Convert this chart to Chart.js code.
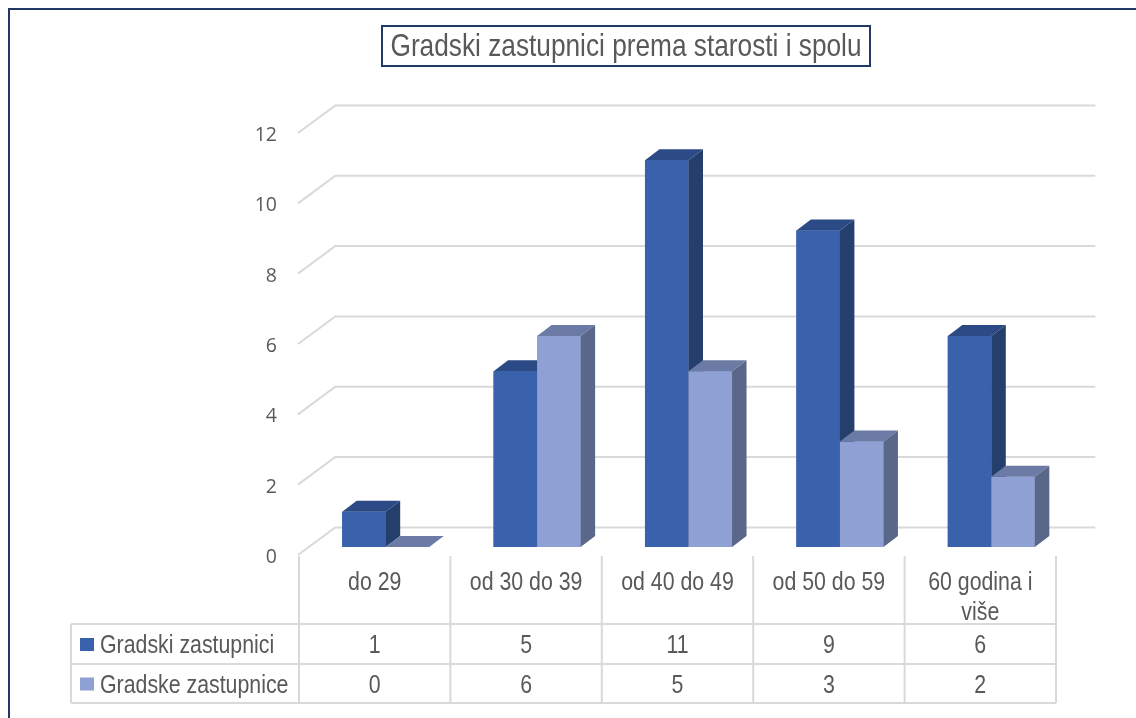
<!DOCTYPE html>
<html>
<head>
<meta charset="utf-8">
<script src="https://cdn.jsdelivr.net/npm/chart.js@4/dist/chart.umd.min.js"></script>
<style>
html,body{margin:0;padding:0;background:#fff;}
canvas{display:block;}
</style>
</head>
<body>
<canvas id="c" width="1136" height="718"></canvas>
<script>
// ---- data ----
const chartTitle = 'Gradski zastupnici prema starosti i spolu';
const categories = ['do 29', 'od 30 do 39', 'od 40 do 49', 'od 50 do 59', ['60 godina i', 'više']];
const seriesNames = ['Gradski zastupnici', 'Gradske zastupnice'];
const gradskiZastupnici = [1, 5, 11, 9, 6];
const gradskeZastupnice = [0, 6, 5, 3, 2];
const yTicks = [0, 2, 4, 6, 8, 10, 12];

// ---- styles ----
const faceColors = [
  {front: '#3A62AC', top: '#2C4B86', side: '#243F6C'},
  {front: '#8FA1D4', top: '#6B7BA5', side: '#5A6788'}
];
const TEXT = '#595959';
const GRID = '#D9D9D9';
const NAVY = '#1F3864';
const FRONT = {dx: -11, dy: 8};     // bar plane -> floor front
const WALL = {dx: 26.3, dy: -19.6}; // bar plane -> back wall
const DEPTH = {dx: 14.5, dy: -11};  // bar depth
const NARROW = 0.82;

function narrowText(ctx, text, x, y, align, size) {
  ctx.save();
  ctx.font = size + 'px "Liberation Sans", Arial, sans-serif';
  ctx.fillStyle = TEXT;
  ctx.textAlign = align;
  ctx.textBaseline = 'alphabetic';
  ctx.translate(x, y);
  ctx.scale(NARROW, 1);
  ctx.fillText(text, 0, 0);
  ctx.restore();
}

function drawBox(ctx, p, col) {
  const l = p.x - p.width / 2, r = p.x + p.width / 2;
  if (p.base - p.y > 0.5) {
    ctx.fillStyle = col.front;
    ctx.fillRect(l, p.y, r - l, p.base - p.y);
  }
  ctx.fillStyle = col.top;
  ctx.beginPath();
  ctx.moveTo(l, p.y);
  ctx.lineTo(r, p.y);
  ctx.lineTo(r + DEPTH.dx, p.y + DEPTH.dy);
  ctx.lineTo(l + DEPTH.dx, p.y + DEPTH.dy);
  ctx.closePath();
  ctx.fill();
  if (p.base - p.y > 0.5) {
    ctx.fillStyle = col.side;
    ctx.beginPath();
    ctx.moveTo(r, p.y);
    ctx.lineTo(r + DEPTH.dx, p.y + DEPTH.dy);
    ctx.lineTo(r + DEPTH.dx, p.base + DEPTH.dy);
    ctx.lineTo(r, p.base);
    ctx.closePath();
    ctx.fill();
  }
}

const scenePlugin = {
  id: 'scene',
  beforeDraw(chart) {
    const ctx = chart.ctx;
    const ys = chart.scales.y;
    const xs = chart.scales.x;
    ctx.save();
    ctx.fillStyle = '#fff';
    ctx.fillRect(0, 0, chart.width, chart.height);
    // outer border
    ctx.strokeStyle = NAVY;
    ctx.lineWidth = 2;
    ctx.strokeRect(9, 9, chart.width + 20, chart.height + 20);
    // title box
    ctx.lineWidth = 2;
    ctx.strokeRect(382, 26, 488, 40);
    narrowText(ctx, chartTitle, 626, 56, 'center', 32);
    // grid lines (back wall + left side wall)
    const xLeft = xs.left;
    ctx.strokeStyle = GRID;
    ctx.lineWidth = 2;
    yTicks.forEach(v => {
      const yp = ys.getPixelForValue(v);
      ctx.beginPath();
      ctx.moveTo(xLeft + FRONT.dx - 1, yp + FRONT.dy);
      ctx.lineTo(xLeft + WALL.dx - 1, yp + WALL.dy);
      ctx.lineTo(xs.right + WALL.dx + 2, yp + WALL.dy);
      ctx.stroke();
    });
    // y tick labels
    ctx.fillStyle = TEXT;
    ctx.font = '19.5px "Open Sans", Lato, sans-serif';
    ctx.textAlign = 'right';
    ctx.textBaseline = 'middle';
    yTicks.forEach(v => {
      const yp = ys.getPixelForValue(v) + FRONT.dy + 2.5;
      ctx.fillText(String(v), 277, yp);
    });
    ctx.restore();
  },
  afterDatasetsDraw(chart) {
    const ctx = chart.ctx;
    const metas = [chart.getDatasetMeta(0), chart.getDatasetMeta(1)];
    ctx.save();
    for (let i = 0; i < categories.length; i++) {
      metas.forEach((meta, s) => {
        const el = meta.data[i];
        const p = el.getProps(['x', 'y', 'base', 'width'], true);
        drawBox(ctx, p, faceColors[s]);
      });
    }
    ctx.restore();
  },
  afterDraw(chart) {
    const ctx = chart.ctx;
    const xs = chart.scales.x;
    const n = categories.length;
    const catW = (xs.right - xs.left) / n;
    const x0 = xs.left + FRONT.dx;
    const xEnd = xs.right + FRONT.dx;
    const tableTop = 556, row1 = 624, row2 = 664, row3 = 703, legLeft = 71;
    ctx.save();
    ctx.strokeStyle = GRID;
    ctx.lineWidth = 2;
    ctx.beginPath();
    for (let i = 0; i <= n; i++) {
      const xv = x0 + i * catW;
      ctx.moveTo(xv, tableTop);
      ctx.lineTo(xv, row3);
    }
    [row1, row2, row3].forEach(yv => { ctx.moveTo(legLeft, yv); ctx.lineTo(xEnd, yv); });
    ctx.moveTo(legLeft, row1);
    ctx.lineTo(legLeft, row3);
    ctx.stroke();
    // header labels
    categories.forEach((c, i) => {
      const cx = xs.getPixelForValue(i) + FRONT.dx;
      const lines = Array.isArray(c) ? c : [c];
      lines.forEach((t, k) => narrowText(ctx, t, cx, 590 + k * 30, 'center', 26));
    });
    // rows
    const rows = [gradskiZastupnici, gradskeZastupnice];
    const baselines = [653, 692.5];
    rows.forEach((vals, r) => {
      vals.forEach((v, i) => {
        const cx = xs.getPixelForValue(i) + FRONT.dx;
        narrowText(ctx, String(v), cx, baselines[r], 'center', 26);
      });
      ctx.fillStyle = faceColors[r].front;
      ctx.fillRect(80, baselines[r] - 15, 14, 13);
      narrowText(ctx, seriesNames[r], 100, baselines[r], 'left', 26);
    });
    ctx.restore();
  }
};

new Chart(document.getElementById('c'), {
  type: 'bar',
  data: {
    labels: categories,
    datasets: [
      {label: seriesNames[0], data: gradskiZastupnici, backgroundColor: faceColors[0].front,
       categoryPercentage: 0.575, barPercentage: 1.0, borderWidth: 0},
      {label: seriesNames[1], data: gradskeZastupnice, backgroundColor: faceColors[1].front,
       categoryPercentage: 0.575, barPercentage: 1.0, borderWidth: 0}
    ]
  },
  options: {
    responsive: false,
    devicePixelRatio: 1,
    animation: false,
    layout: {padding: {left: 310, right: 69, top: 125, bottom: 171}},
    plugins: {legend: {display: false}, title: {display: false}, tooltip: {enabled: false}},
    scales: {
      x: {display: false},
      y: {display: false, min: 0, max: 12, ticks: {stepSize: 2}}
    }
  },
  plugins: [scenePlugin]
});
</script>
</body>
</html>
